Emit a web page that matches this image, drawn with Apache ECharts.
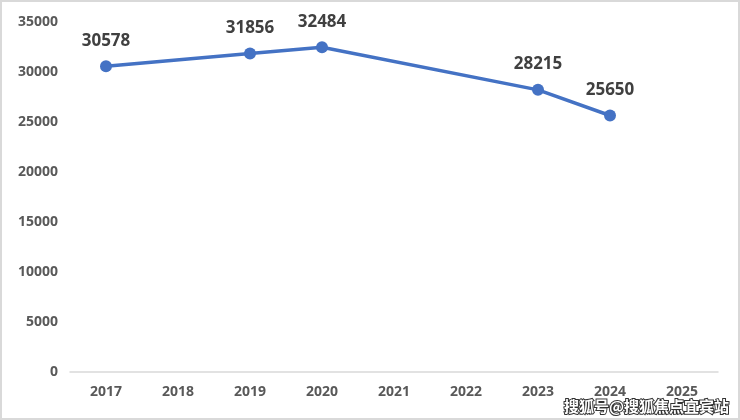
<!DOCTYPE html>
<html>
<head>
<meta charset="utf-8">
<script src="https://cdn.jsdelivr.net/npm/echarts@6/dist/echarts.min.js"></script>
<style>
  html, body { margin: 0; padding: 0; background: #fff; }
  #chart { width: 740px; height: 420px; }
</style>
</head>
<body>
<div id="chart"></div>
<script>
// years on the x axis, values only for some years
const years = ["2017", "2018", "2019", "2020", "2021", "2022", "2023", "2024", "2025"];
const values = [30578, null, 31856, 32484, null, null, 28215, 25650, null];
const yTicks = [0, 5000, 10000, 15000, 20000, 25000, 30000, 35000];

const myChart = echarts.init(document.getElementById("chart"));

const option = {
  animation: false,
  backgroundColor: "#ffffff",
  grid: {
    left: 70,
    right: 22,
    top: 22,
    bottom: 48,
  },
  xAxis: {
    type: "category",
    data: years,
    boundaryGap: true,
    axisLine: { show: true, lineStyle: { color: "#d9d9d9", width: 1.5 } },
    axisTick: { show: false },
    axisLabel: {
      color: "#595959",
      fontFamily: "Noto Sans",
      fontWeight: "bold",
      fontSize: 14,
      margin: 13,
    },
  },
  yAxis: {
    type: "value",
    min: yTicks[0],
    max: yTicks[yTicks.length - 1],
    interval: 5000,
    splitLine: { show: false },
    axisLine: { show: false },
    axisTick: { show: false },
    axisLabel: {
      color: "#595959",
      fontFamily: "Noto Sans",
      fontWeight: "bold",
      fontSize: 14,
      margin: 12,
      formatter: (value) => String(value), // no thousands separator
    },
  },
  series: [
    {
      type: "line",
      data: values,
      connectNulls: true,
      symbol: "circle",
      symbolSize: 12,
      lineStyle: { color: "#4472C4", width: 3.5 },
      itemStyle: { color: "#4472C4" },
      label: {
        show: true,
        position: "top",
        distance: 11,
        color: "#404040",
        fontFamily: "Noto Sans",
        fontWeight: "bold",
        fontSize: 17,
      },
    },
  ],
  graphic: [
    {
      type: "rect",
      shape: { x: 1, y: 1, width: 738, height: 418 },
      style: { fill: "none", stroke: "#d9d9d9", lineWidth: 2 },
      silent: true,
    },
    {
      type: "text",
      right: 10,
      bottom: 5,
      style: {
        text: "搜狐号@搜狐焦点宜宾站",
        font: "bold 15px 'Noto Sans CJK SC'",
        fill: "#ffffff",
        stroke: "#333333",
        lineWidth: 2,
      },
      silent: true,
    },
  ],
};

myChart.setOption(option);
</script>
</body>
</html>
